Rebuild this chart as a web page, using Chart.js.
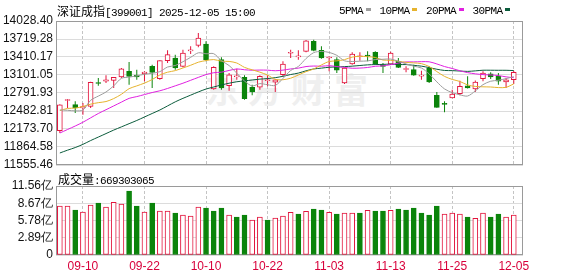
<!DOCTYPE html>
<html>
<head>
<meta charset="utf-8">
<script src="https://cdn.jsdelivr.net/npm/chart.js@4.4.1/dist/chart.umd.min.js"></script>
<style>
  html, body { margin: 0; padding: 0; background: #fff; }
  #wrap { position: relative; width: 578px; height: 276px; overflow: hidden; }
  canvas { position: absolute; left: 0; top: 0; }
  .txt { position: absolute; white-space: nowrap; color: #000; line-height: 14px; }
  .cn { font: 12px "Noto Sans CJK SC", sans-serif; }
  .en { font: 11px "Liberation Mono", monospace; letter-spacing: -0.6px; }
  .dash { display: inline-block; width: 5px; height: 3px; margin: 0 9px 1px 2.5px; vertical-align: middle; }
  #mark { position: absolute; left: 205px; top: 64px; font: bold 34px "Noto Sans CJK SC", sans-serif; color: #efefef; letter-spacing: 9px; }
</style>
</head>
<body>
<div id="wrap">
  <div id="mark">东方财富</div>
  <canvas id="kline" width="578" height="276"></canvas>
  <canvas id="volume" width="578" height="276"></canvas>
  <div class="txt" style="left:57px;top:2px"><span class="cn">深证成指</span><span class="en">[399001] 2025-12-05 15:00</span></div>
  <div class="txt" id="legend" style="left:339px;top:2px"></div>
  <div class="txt" style="left:58px;top:170px"><span class="cn">成交量</span><span class="en" id="volNum"></span></div>
</div>
<script>
// trading days shown
const dates = ['09-05','09-08','09-09','09-10','09-11','09-12','09-15','09-16','09-17','09-18',
  '09-19','09-22','09-23','09-24','09-25','09-26','09-29','09-30','10-09','10-10',
  '10-13','10-14','10-15','10-16','10-17','10-20','10-21','10-22','10-23','10-24',
  '10-27','10-28','10-29','10-30','10-31','11-03','11-04','11-05','11-06','11-07',
  '11-10','11-11','11-12','11-13','11-14','11-17','11-18','11-19','11-20','11-21',
  '11-24','11-25','11-26','11-27','11-28','12-01','12-02','12-03','12-04','12-05'];

const openP = [12145,12663,12591,12534,12563,12972,12993,13010,13067,13165,
  13101,13123,13250,13038,13347,13393,13250,13515,13611,13633,
  12861,13364,12917,13070,13062,12890,12890,13003,12976,13106,
  13475,13410,13508,13680,13525,13393,13364,12964,13290,13415,
  13445,13491,13260,13285,13336,13195,13192,13082,13221,12752,
  12610,12706,12780,12917,12861,13038,13123,13079,12981,13020];
const highP = [12600,12689,12649,12620,12985,13049,13096,13067,13221,13324,
  13192,13165,13278,13355,13525,13450,13536,13594,13822,13680,
  13250,13405,13135,13209,13096,12934,13096,13096,13030,13336,
  13536,13525,13700,13707,13594,13422,13405,13230,13491,13491,
  13508,13508,13307,13500,13393,13250,13278,13175,13250,12809,
  12649,12849,13003,13079,13005,13165,13147,13135,13050,13175];
const lowP = [12105,12534,12448,12419,12534,12917,12964,12878,13050,12934,
  13020,12993,12878,13020,13307,13192,13233,13462,13577,13336,
  12849,12849,12831,13020,12677,12752,12849,12907,12809,13079,
  13393,13364,13491,13508,13381,13165,13135,12946,13278,13347,
  13336,13278,13135,13273,13221,13147,13087,13020,12964,12538,
  12460,12700,12752,12870,12809,12993,13032,12934,12878,12946];
const closeP = [12590,12672,12534,12560,12976,12955,13020,13061,13209,13076,
  13070,13153,13147,13347,13450,13221,13479,13525,13736,13364,
  13233,12878,13106,13079,12694,12809,13079,13010,13020,13290,
  13491,13430,13690,13525,13393,13405,13182,13221,13462,13422,
  13428,13295,13250,13479,13233,13204,13096,13090,12981,12546,
  12596,12775,12907,12878,12981,13135,13067,12993,13020,13147];
const prevClose = 12118.70;

const ma5 = [12500,12495,12485,12500,12666,12739,12809,12914,13044,13064,
  13087,13114,13131,13159,13238,13264,13329,13404,13482,13465,
  13467,13347,13263,13132,12998,12913,12953,12934,12922,13042,
  13178,13248,13384,13485,13506,13489,13439,13345,13333,13338,
  13343,13366,13371,13375,13337,13292,13252,13221,13120,12983,
  12862,12798,12761,12740,12827,12935,12994,13011,13039,13072];
const ma10 = [12490,12527,12533,12560,12600,12626,12645,12696,12770,12866,
  12914,12962,13023,13102,13149,13176,13222,13268,13321,13349,
  13366,13338,13334,13307,13232,13190,13150,13099,13027,13020,
  13046,13101,13159,13204,13274,13333,13344,13365,13409,13422,
  13416,13402,13358,13354,13338,13318,13309,13296,13247,13160,
  13077,13025,12990,12930,12905,12898,12895,12885,12889,12949];
const ma20 = [12105,12165,12225,12290,12365,12440,12505,12570,12635,12700,
  12730,12765,12800,12830,12870,12915,12960,13010,13060,13108,
  13140,13150,13179,13205,13191,13183,13186,13184,13174,13185,
  13205,13219,13246,13255,13252,13261,13246,13231,13217,13220,
  13230,13251,13258,13278,13305,13325,13326,13330,13328,13291,
  13246,13213,13174,13142,13121,13108,13102,13091,13069,13055];
const ma30 = [11762,11810,11855,11910,11975,12035,12095,12155,12210,12265,
  12320,12380,12440,12500,12570,12640,12700,12755,12810,12860,
  12895,12930,12960,12985,13000,13015,13030,13040,13055,13079,
  13109,13134,13173,13205,13219,13234,13239,13245,13253,13264,
  13275,13280,13283,13288,13280,13280,13267,13253,13228,13200,
  13179,13176,13169,13163,13172,13183,13183,13182,13182,13177];

// volume in 亿
const volume = [8.21,8.21,7.54,7.20,8.38,8.71,8.04,8.82,8.54,10.72,
  8.21,7.20,8.71,7.37,7.37,7.04,6.70,6.53,8.04,7.87,
  7.37,7.87,6.70,6.37,6.70,5.86,6.37,5.86,6.20,6.53,
  7.15,6.87,7.32,7.71,7.54,7.15,6.87,7.04,7.04,7.04,
  7.48,7.37,7.37,7.48,7.71,7.54,7.87,7.04,6.70,8.21,
  6.87,7.04,6.87,6.37,6.14,7.04,6.37,6.87,6.37,6.69];
const latestVolume = 669303065;

const priceTicks = [11555.46,11864.58,12173.70,12482.81,12791.93,13101.05,13410.17,13719.28,14028.40];
const volTicks = [0,2.89,5.78,8.67,11.56];
const dateTickIdx = [3,11,19,27,35,43,51,59];

const UP = '#e2143c';
const DOWN = '#0b840b';
const DATE_RED = '#d8003a';
const FONT = { family: '"Liberation Sans", Arial, sans-serif', size: 12 };

const maLines = [
  { name: '5PMA', data: ma5, color: '#9c9c9c' },
  { name: '10PMA', data: ma10, color: '#e6b32e' },
  { name: '20PMA', data: ma20, color: '#e020e0' },
  { name: '30PMA', data: ma30, color: '#0b5c3c' }
];

const legendEl = document.getElementById('legend');
maLines.forEach(m => {
  legendEl.insertAdjacentHTML('beforeend',
    '<span class="en">' + m.name + '</span><span class="dash" style="background:' + m.color + '"></span>');
});
document.getElementById('volNum').textContent = ':' + latestVolume;

// frame around plot area
const boxPlugin = {
  id: 'box',
  beforeDatasetsDraw(chart) {
    const a = chart.chartArea;
    const ctx = chart.ctx;
    ctx.save();
    ctx.strokeStyle = '#9a9a9a';
    ctx.lineWidth = 1;
    ctx.strokeRect(Math.round(a.left) + 0.5, Math.round(a.top) + 0.5,
      Math.round(a.right - a.left) - 1, Math.round(a.bottom - a.top) - 1);
    ctx.restore();
  }
};

function xAxis(showLabels) {
  return {
    type: 'linear', min: -0.5, max: 60.2, bounds: 'data', offset: false,
    afterBuildTicks: s => { s.ticks = dateTickIdx.map(v => ({ value: v })); },
    afterFit: s => { s.height = showLabels ? 21 : 0; s.paddingLeft = 0; s.paddingRight = 0; },
    grid: { color: '#c4c4c4', drawTicks: false, offset: false },
    border: { display: false, dash: [3, 2] },
    ticks: {
      display: showLabels, autoSkip: false, maxRotation: 0, padding: 4,
      color: DATE_RED, font: FONT, callback: v => dates[v]
    }
  };
}

function yAxis(ticks, fmt) {
  return {
    min: ticks[0], max: ticks[ticks.length - 1], bounds: 'data',
    afterBuildTicks: s => { s.ticks = ticks.map(v => ({ value: v })); },
    afterFit: s => { s.width = 56; },
    grid: { color: '#dcdcdc', drawTicks: false },
    border: { display: false },
    ticks: { padding: 3, color: '#111', font: FONT, autoSkip: false, callback: fmt }
  };
}

const candleColor = closeP.map((c, i) => c >= openP[i] ? UP : DOWN);

new Chart(document.getElementById('kline').getContext('2d'), {
  type: 'bar',
  data: {
    datasets: [
      ...maLines.map(m => ({
        type: 'line',
        data: m.data.map((v, i) => ({ x: i, y: v })),
        borderColor: m.color,
        borderWidth: 1,
        pointRadius: 0,
        tension: 0.3,
        order: 0
      })),
      {
        type: 'bar',
        data: openP.map((o, i) => ({ x: i, y: [o, closeP[i]] })),
        backgroundColor: closeP.map((c, i) => c >= openP[i] ? '#ffffff' : DOWN),
        borderColor: candleColor,
        borderWidth: 1,
        borderSkipped: false,
        barThickness: 5,
        minBarLength: 1,
        grouped: false,
        order: 1
      },
      {
        type: 'bar',
        data: lowP.map((l, i) => ({ x: i, y: [l, highP[i]] })),
        backgroundColor: candleColor,
        barThickness: 1,
        inflateAmount: 0,
        grouped: false,
        order: 2
      }
    ]
  },
  options: {
    responsive: false,
    animation: false,
    layout: { padding: { top: 21, right: 55, bottom: 111, left: 0 } },
    plugins: { legend: { display: false }, tooltip: { enabled: false } },
    scales: {
      x: xAxis(false),
      y: yAxis(priceTicks, v => v.toFixed(2))
    }
  },
  plugins: [boxPlugin]
});

const volUp = closeP.map((c, i) => c >= (i ? closeP[i - 1] : prevClose));

new Chart(document.getElementById('volume').getContext('2d'), {
  type: 'bar',
  data: {
    datasets: [{
      data: volume.map((v, i) => ({ x: i, y: v })),
      backgroundColor: volUp.map(u => u ? '#ffffff' : DOWN),
      borderColor: volUp.map(u => u ? UP : DOWN),
      borderWidth: 1,
      borderSkipped: false,
      barThickness: 5,
      grouped: false
    }]
  },
  options: {
    responsive: false,
    animation: false,
    layout: { padding: { top: 186, right: 55, bottom: 0, left: 0 } },
    plugins: { legend: { display: false }, tooltip: { enabled: false } },
    scales: {
      x: xAxis(true),
      y: yAxis(volTicks, v => v === 0 ? '0' : v.toFixed(2) + '亿')
    }
  },
  plugins: [boxPlugin]
});
</script>
</body>
</html>
